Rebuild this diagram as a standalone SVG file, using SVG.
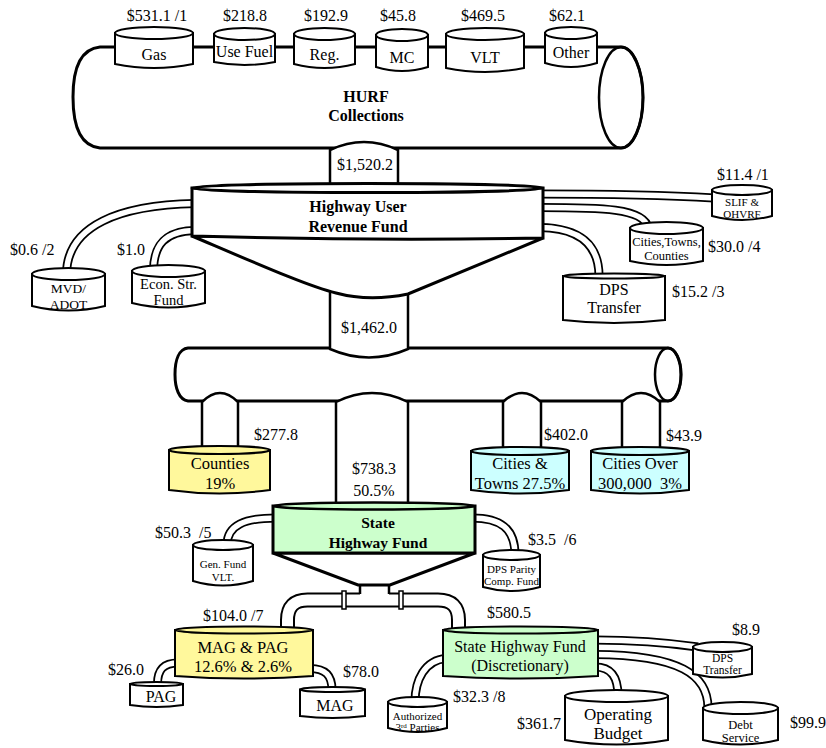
<svg xmlns="http://www.w3.org/2000/svg" width="826" height="748" viewBox="0 0 826 748">
<style>
text { font-family: "Liberation Serif", "Times New Roman", serif; fill:#000; font-size:16px; }
.c { text-anchor:middle; }
.b { font-weight:bold; }
.s11 { font-size:11px; }
.s12 { font-size:12.5px; }
.s14 { font-size:13.5px; }
.k { fill:#fff; stroke:#000; stroke-width:2; }
.kt { fill:#fff; stroke:#000; stroke-width:3; }
.n { fill:none; stroke:#000; stroke-width:2.5; }
.y { fill:#FFF89C; stroke:#000; stroke-width:2; }
.cy { fill:#CCFFFF; stroke:#000; stroke-width:2; }
.g { fill:#CCFFCC; stroke:#000; stroke-width:2; }
.to { fill:none; stroke:#000; stroke-width:9; }
.ti { fill:none; stroke:#fff; stroke-width:5.5; }
.po { fill:none; stroke:#000; stroke-width:15; }
.pi { fill:none; stroke:#fff; stroke-width:11; }
</style>

<g id="connectors">
  <path class="to" d="M540,194 C620,194 680,196 714,198"/>
  <path class="ti" d="M540,194 C620,194 680,196 714,198"/>
  <path class="to" d="M540,207.5 C600,207.5 645,208 648,228"/>
  <path class="ti" d="M540,207.5 C600,207.5 645,208 648,228"/>
  <path class="to" d="M540,227.5 C580,228 599,245 599,276"/>
  <path class="ti" d="M540,227.5 C580,228 599,245 599,276"/>
  <path class="to" d="M195,203.5 C120,205 67,225 66.5,274"/>
  <path class="ti" d="M195,203.5 C120,205 67,225 66.5,274"/>
  <path class="to" d="M195,230.5 C165,231 153.5,245 153.5,271"/>
  <path class="ti" d="M195,230.5 C165,231 153.5,245 153.5,271"/>
  <path class="to" d="M276,518 C245,518 227,525 227,545"/>
  <path class="ti" d="M276,518 C245,518 227,525 227,545"/>
  <path class="to" d="M472,518 C500,518 515,528 515,555"/>
  <path class="ti" d="M472,518 C500,518 515,528 515,555"/>
  <path class="to" d="M178,663 C163,663 157.5,670 157.5,684"/>
  <path class="ti" d="M178,663 C163,663 157.5,670 157.5,684"/>
  <path class="to" d="M310,668.5 C325,668.5 332,675 332,690"/>
  <path class="ti" d="M310,668.5 C325,668.5 332,675 332,690"/>
  <path class="to" d="M446,658.5 C425,660 415,680 415,702"/>
  <path class="ti" d="M446,658.5 C425,660 415,680 415,702"/>
  <path class="to" d="M595,667 C612,667 618,678 618,696"/>
  <path class="ti" d="M595,667 C612,667 618,678 618,696"/>
  <path class="to" d="M595,654.5 C680,655 708,675 708,708"/>
  <path class="ti" d="M595,654.5 C680,655 708,675 708,708"/>
  <path class="to" d="M595,640 C640,640 670,643 698,647"/>
  <path class="ti" d="M595,640 C640,640 670,643 698,647"/>
  <path class="po" d="M287.5,630 V620 Q287.5,600 307.5,600 H438 Q458.5,600 458.5,620 V630"/>
  <path class="pi" d="M287.5,630 V620 Q287.5,600 307.5,600 H438 Q458.5,600 458.5,620 V630"/>
  <rect class="k" x="342" y="591" width="4" height="18" style="stroke-width:1.5"/>
  <rect class="k" x="399" y="591" width="4" height="18" style="stroke-width:1.5"/>
</g>

<g id="hurf-collections">
  <path class="kt" d="M100,47 H621 A22,50.5 0 0 1 621,148 H100 C80,146 73,125 73,97 C73,70 80,49 100,47 Z"/>
  <ellipse class="n" cx="621" cy="97.5" rx="22" ry="50.5"/>
  <text class="c b" x="366" y="102">HURF</text>
  <text class="c b" x="366" y="121">Collections</text>
</g>

<g id="src-gas">
  <path class="k" d="M115,33 V64 Q154,72 193,64 V33 Z"/>
  <ellipse class="k" cx="154" cy="33" rx="39" ry="6"/>
  <text class="c" x="157" y="21">$531.1 /1</text>
  <text class="c" x="154" y="60">Gas</text>
</g>
<g id="src-usefuel">
  <path class="k" d="M214,34 V62 Q244.5,68 275,62 V34 Z"/>
  <ellipse class="k" cx="244.5" cy="34" rx="30.5" ry="6"/>
  <text class="c" x="245" y="21">$218.8</text>
  <text class="c" x="244.5" y="57">Use Fuel</text>
</g>
<g id="src-reg">
  <path class="k" d="M294,34 V64 Q324.5,72 355,64 V34 Z"/>
  <ellipse class="k" cx="324.5" cy="34" rx="30.5" ry="6"/>
  <text class="c" x="326" y="21">$192.9</text>
  <text class="c" x="324.5" y="60">Reg.</text>
</g>
<g id="src-mc">
  <path class="k" d="M376,35 V67 Q402,75 428,67 V35 Z"/>
  <ellipse class="k" cx="402" cy="35" rx="26" ry="6"/>
  <text class="c" x="398" y="21">$45.8</text>
  <text class="c" x="402" y="63">MC</text>
</g>
<g id="src-vlt">
  <path class="k" d="M446,34 V68 Q485,76 524,68 V34 Z"/>
  <ellipse class="k" cx="485" cy="34" rx="39" ry="6"/>
  <text class="c" x="483" y="21">$469.5</text>
  <text class="c" x="485" y="63">VLT</text>
</g>
<g id="src-other">
  <path class="k" d="M545,33 V63 Q571,71 597,63 V33 Z"/>
  <ellipse class="k" cx="571" cy="33" rx="26" ry="6"/>
  <text class="c" x="567" y="21">$62.1</text>
  <text class="c" x="571" y="58">Other</text>
</g>

<g id="neck-1520">
  <path class="k" style="stroke-width:2.5" d="M330,187 V150 Q364,134 398,150 V187"/>
  <text class="c" x="365" y="170">$1,520.2</text>
</g>

<g id="distribution-pipe">
  <path class="kt" d="M188,348 H668 A13,26.5 0 0 1 668,401 H188 C179,400 175,388 175,374.5 C175,360 179,349 188,348 Z"/>
  <ellipse class="n" cx="668" cy="374.5" rx="13" ry="26.5"/>
</g>

<g id="neck-1462">
  <path class="k" style="stroke-width:2.5" d="M330,290 V349 Q369,366 408,349 V290"/>
  <text class="c" x="369" y="333">$1,462.0</text>
</g>

<g id="hurf-fund">
  <path class="kt" d="M192,236 C260,265 310,287 336,293 Q369,302 408,294 L543,238 Z"/>
  <path class="kt" d="M192,188 V236 Q367,241 543,238 V188 Z"/>
  <ellipse class="kt" cx="367.5" cy="188" rx="175.5" ry="4.5"/>
  <text class="c b" x="358" y="212">Highway User</text>
  <text class="c b" x="358" y="232">Revenue Fund</text>
</g>

<g id="mvd-adot">
  <path class="k" d="M32,274 V306 Q68.5,315 105,306 V274 Z"/>
  <ellipse class="k" cx="68.5" cy="274" rx="36.5" ry="6"/>
  <text class="c s14" x="68.5" y="293">MVD/</text>
  <text class="c s14" x="68.5" y="309">ADOT</text>
  <text x="10" y="255">$0.6 /2</text>
</g>
<g id="econ-str-fund">
  <path class="k" d="M132,271 V303 Q168.5,312 205,303 V271 Z"/>
  <ellipse class="k" cx="168.5" cy="271" rx="36.5" ry="6"/>
  <text class="c" x="168.5" y="289" style="font-size:14.5px">Econ. Str.</text>
  <text class="c" x="168.5" y="305" style="font-size:14.5px">Fund</text>
  <text x="117" y="255">$1.0</text>
</g>
<g id="slif-ohvrf">
  <path class="k" d="M712,190 V216 Q742,224 772,216 V190 Z"/>
  <ellipse class="k" cx="742" cy="190" rx="30" ry="5"/>
  <text class="c s11" x="742" y="206">SLIF &amp;</text>
  <text class="c s11" x="742" y="218">OHVRF</text>
  <text x="717" y="180">$11.4 /1</text>
</g>
<g id="cities-towns-counties">
  <path class="k" d="M630,228 V261 Q666.5,269 703,261 V228 Z"/>
  <ellipse class="k" cx="666.5" cy="228" rx="36.5" ry="6"/>
  <text class="c s12" x="666.5" y="246">Cities,Towns,</text>
  <text class="c s12" x="666.5" y="260">Counties</text>
  <text x="708" y="252">$30.0 /4</text>
</g>
<g id="dps-transfer-1">
  <path class="k" d="M563,276 V320 Q614,326 665,320 V276 Z"/>
  <ellipse class="k" cx="614" cy="276" rx="51" ry="2.5"/>
  <text class="c" x="614" y="295">DPS</text>
  <text class="c" x="614" y="313">Transfer</text>
  <text x="672" y="297">$15.2 /3</text>
</g>

<g id="drop-counties">
  <path class="k" style="stroke-width:2.5" d="M202,449 V402 Q220,384 238,402 V449"/>
  <text x="254" y="440">$277.8</text>
</g>
<g id="drop-shf">
  <path class="k" style="stroke-width:2.5" d="M336,507 V402 Q372,384 408,402 V507"/>
  <text class="c" x="374" y="474">$738.3</text>
  <text class="c" x="374" y="496">50.5%</text>
</g>
<g id="drop-cities">
  <path class="k" style="stroke-width:2.5" d="M503,449 V402 Q522,384 541,402 V449"/>
  <text x="544" y="440">$402.0</text>
</g>
<g id="drop-over">
  <path class="k" style="stroke-width:2.5" d="M622,449 V402 Q641,384 660,402 V449"/>
  <text x="666" y="441">$43.9</text>
</g>

<g id="counties">
  <path class="y" d="M169,450 V490 Q219.5,497 270,490 V450 Z"/>
  <ellipse class="y" cx="219.5" cy="450" rx="50.5" ry="4"/>
  <text class="c" x="220" y="469" style="font-size:16.5px">Counties</text>
  <text class="c" x="220" y="489" style="font-size:16.5px">19%</text>
</g>
<g id="cities-towns">
  <path class="cy" d="M471,451 V490 Q520,497 569,490 V451 Z"/>
  <ellipse class="cy" cx="520" cy="451" rx="49" ry="4"/>
  <text class="c" x="520" y="469" style="font-size:16.5px">Cities &amp;</text>
  <text class="c" x="520" y="489" style="font-size:16.5px">Towns 27.5%</text>
</g>
<g id="cities-over">
  <path class="cy" d="M591,451 V490 Q640,497 689,490 V451 Z"/>
  <ellipse class="cy" cx="640" cy="451" rx="49" ry="4"/>
  <text class="c" x="640" y="469" style="font-size:16.5px">Cities Over</text>
  <text class="c" x="640" y="489" style="font-size:16.5px">300,000&#160; 3%</text>
</g>

<g id="state-highway-fund">
  <rect x="360" y="580" width="29" height="15" fill="#fff"/>
  <path class="n" d="M360,580 V594 M389,580 V594"/>
  <path class="kt" d="M273,553 L358,585 H390 L475,553 Z"/>
  <path class="g" style="stroke-width:3" d="M273,506 V553 H475 V506 Z"/>
  <ellipse class="g" style="stroke-width:2.5" cx="374" cy="506" rx="101" ry="3.5"/>
  <text class="c b" x="378" y="528" style="font-size:15.5px">State</text>
  <text class="c b" x="378" y="548" style="font-size:15.5px">Highway Fund</text>
</g>

<g id="gen-fund-vlt">
  <path class="k" d="M193,545 V581 Q223,590 253,581 V545 Z"/>
  <ellipse class="k" cx="223" cy="545" rx="30" ry="5"/>
  <text class="c s11" x="223" y="568">Gen. Fund</text>
  <text class="c s11" x="223" y="581">VLT.</text>
  <text x="155" y="538">$50.3&#160; /5</text>
</g>
<g id="dps-parity">
  <path class="k" d="M483,555 V587 Q511.5,595 540,587 V555 Z"/>
  <ellipse class="k" cx="511.5" cy="555" rx="28.5" ry="5"/>
  <text class="c s11" x="511.5" y="573">DPS Parity</text>
  <text class="c s11" x="511.5" y="585">Comp. Fund</text>
  <text x="528" y="545">$3.5&#160; /6</text>
</g>

<g id="mag-pag">
  <path class="y" d="M175,630 V676 Q244,681 313,676 V630 Z"/>
  <ellipse class="y" cx="244" cy="630" rx="69" ry="3.5"/>
  <text class="c" x="243" y="653" style="font-size:16.5px">MAG &amp; PAG</text>
  <text class="c" x="243" y="672" style="font-size:16.5px">12.6% &amp; 2.6%</text>
  <text x="203" y="621">$104.0 /7</text>
</g>
<g id="pag">
  <path class="k" d="M130,684 V705 Q156.5,709 183,705 V684 Z"/>
  <ellipse class="k" cx="156.5" cy="684" rx="26.5" ry="2"/>
  <text class="c" x="161" y="702">PAG</text>
  <text x="108" y="675">$26.0</text>
</g>
<g id="mag">
  <path class="k" d="M300,689.5 V716 Q332.5,720 365,716 V689.5 Z"/>
  <ellipse class="k" cx="332.5" cy="689.5" rx="32.5" ry="2.5"/>
  <text class="c" x="335" y="711">MAG</text>
  <text x="343" y="677">$78.0</text>
</g>

<g id="shf-discretionary">
  <path class="g" d="M443,630 V676 Q520.5,681 598,676 V630 Z"/>
  <ellipse class="g" cx="520.5" cy="630" rx="77.5" ry="3.5"/>
  <text class="c" x="520" y="652">State Highway Fund</text>
  <text class="c" x="520" y="671">(Discretionary)</text>
  <text x="487" y="618">$580.5</text>
</g>
<g id="dps-transfer-2">
  <path class="k" d="M693,647 V674 Q722.5,681 752,674 V647 Z"/>
  <ellipse class="k" cx="722.5" cy="647" rx="29.5" ry="5"/>
  <text class="c" x="722.5" y="662" style="font-size:11.5px">DPS</text>
  <text class="c" x="722.5" y="674" style="font-size:11.5px">Transfer</text>
  <text x="732" y="635">$8.9</text>
</g>
<g id="debt-service">
  <path class="k" d="M703,708 V740 Q740.5,749 778,740 V708 Z"/>
  <ellipse class="k" cx="740.5" cy="708" rx="37.5" ry="6"/>
  <text class="c s12" x="740.5" y="729">Debt</text>
  <text class="c s12" x="740.5" y="742">Service</text>
  <text x="790" y="728">$99.9</text>
</g>
<g id="operating-budget">
  <path class="k" d="M565,696 V740 Q616.5,749 668,740 V696 Z"/>
  <ellipse class="k" cx="616.5" cy="696" rx="51.5" ry="6"/>
  <text class="c" x="618" y="720" style="font-size:17px">Operating</text>
  <text class="c" x="618" y="739" style="font-size:17px">Budget</text>
  <text x="517" y="729">$361.7</text>
</g>
<g id="authorized-3rd-parties">
  <path class="k" d="M388,702 V728 Q417.5,736 447,728 V702 Z"/>
  <ellipse class="k" cx="417.5" cy="702" rx="29.5" ry="5"/>
  <text class="c s11" x="417.5" y="720">Authorized</text>
  <text class="c s11" x="417.5" y="731">3<tspan style="font-size:7px" dy="-3">rd</tspan><tspan dy="3"> Parties</tspan></text>
  <text x="453" y="702">$32.3 /8</text>
</g>
</svg>
